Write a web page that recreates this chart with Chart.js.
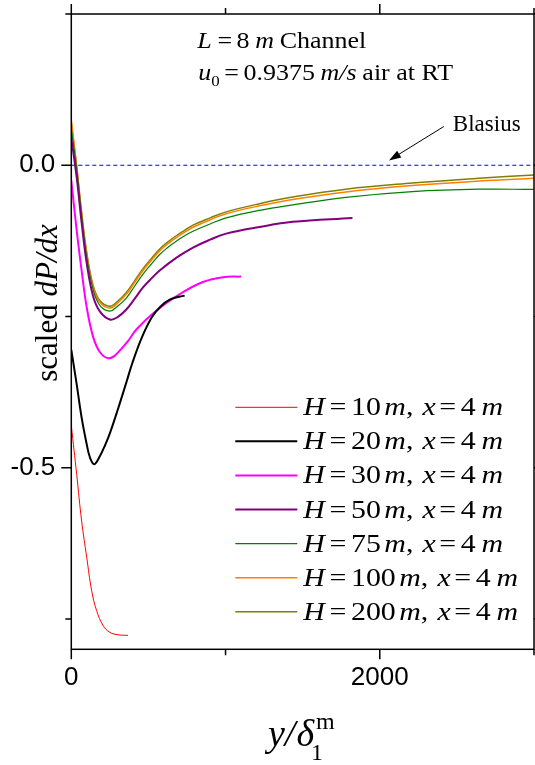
<!DOCTYPE html>
<html><head><meta charset="utf-8">
<script src="https://cdn.jsdelivr.net/npm/chart.js@4.4.0/dist/chart.umd.min.js"></script>
<style>html,body{margin:0;padding:0;background:#fff;}#wrap{width:535px;height:765px;}</style>
</head><body><div id="wrap"><canvas id="c" width="535" height="765"></canvas></div>
<script>
// ---- axis ranges & ticks ----
const xMin = 0, xMax = 3000, yMin = -0.8, yMax = 0.25;
const xMajorTicks = [0, 2000], xMinorTicks = [1000, 3000];
const yMajorTicks = [0, -0.5], yMinorTicks = [0.25, -0.25, -0.75];
const yTickLabels = {"0": "0.0", "-0.5": "-0.5"};

// ---- series ----
const h10X = [0, 35, 67, 100, 132, 164, 207, 250, 304, 368];
const h10Y = [-0.43, -0.511, -0.588, -0.648, -0.703, -0.736, -0.761, -0.772, -0.776, -0.777];

const h20X = [0, 35, 67, 100, 121, 149, 185, 220, 250, 300, 358, 397, 455, 520, 573, 638, 735];
const h20Y = [-0.305, -0.362, -0.417, -0.461, -0.483, -0.494, -0.481, -0.462, -0.443, -0.405, -0.358, -0.326, -0.286, -0.252, -0.235, -0.222, -0.2155];

const h30X = [0, 35, 67, 100, 142, 186, 239, 280, 315, 370, 423, 552, 703, 853, 983, 1101];
const h30Y = [-0.025, -0.108, -0.174, -0.235, -0.284, -0.309, -0.319, -0.315, -0.306, -0.290, -0.271, -0.240, -0.213, -0.193, -0.185, -0.184];

const h50X = [0, 35, 67, 100, 142, 186, 250, 300, 358, 410, 465, 520, 573, 680, 789, 900, 1004, 1220, 1435, 1823];
const h50Y = [0.045, -0.02, -0.095, -0.162, -0.217, -0.242, -0.255, -0.251, -0.238, -0.221, -0.202, -0.187, -0.174, -0.153, -0.136, -0.123, -0.113, -0.102, -0.0935, -0.087];

const bigX = [0, 35, 67, 100, 142, 186, 250, 300, 358, 410, 465, 520, 573, 625, 680, 735, 789, 900, 1004, 1220, 1435, 1780, 2211, 2642, 3000];
const h75Y = [0.06, -0.006, -0.083, -0.151, -0.206, -0.232, -0.241, -0.233, -0.219, -0.200, -0.180, -0.163, -0.1475, -0.136, -0.1255, -0.1165, -0.109, -0.097, -0.087, -0.0745, -0.0655, -0.053, -0.0435, -0.0395, -0.040];
const h100Y = [0.075, -0.003, -0.080, -0.147, -0.202, -0.227, -0.236, -0.228, -0.213, -0.194, -0.174, -0.157, -0.1415, -0.130, -0.1195, -0.1105, -0.1025, -0.090, -0.080, -0.067, -0.0565, -0.044, -0.0335, -0.026, -0.0215];
const h200Y = [0.07, -0.002, -0.078, -0.144, -0.199, -0.224, -0.233, -0.225, -0.210, -0.191, -0.171, -0.154, -0.1385, -0.127, -0.1165, -0.1075, -0.099, -0.087, -0.077, -0.0635, -0.0525, -0.0395, -0.0295, -0.0215, -0.016];

const blasiusX = [0, 3000];
const blasiusY = [0, 0];

const seriesH = ["10", "20", "30", "50", "75", "100", "200"];
const seriesColors = ["#ff0000", "#000000", "#ff00ff", "#800080", "#008000", "#ff8000", "#808000"];
const seriesWidths = [1, 2, 2, 2, 1.2, 1.5, 1.5];
const seriesXs = [h10X, h20X, h30X, h50X, bigX, bigX, bigX];
const seriesYs = [h10Y, h20Y, h30Y, h50Y, h75Y, h100Y, h200Y];

const pts = (xs, ys) => xs.map((x, i) => ({x: x, y: ys[i]}));

const datasets = seriesH.map((h, i) => ({
  label: "H = " + h + " m, x = 4 m",
  data: pts(seriesXs[i], seriesYs[i]),
  borderColor: seriesColors[i],
  borderWidth: seriesWidths[i],
  pointRadius: 0,
  fill: false,
  tension: 0.4
}));
datasets.push({
  label: "Blasius",
  data: pts(blasiusX, blasiusY),
  borderColor: "#0000ff",
  borderWidth: 1,
  borderDash: [4, 3],
  pointRadius: 0,
  fill: false
});

const SERIF = '"Liberation Serif", "Times New Roman", serif';

function rich(ctx, x, y, segs, sx, sy) {
  ctx.save();
  ctx.translate(x, y);
  ctx.scale(sx || 1, sy || 1);
  ctx.textBaseline = 'alphabetic';
  ctx.textAlign = 'left';
  let cx = 0;
  for (const s of segs) {
    ctx.font = (s.it ? 'italic ' : '') + s.sz + 'px ' + SERIF;
    ctx.fillText(s.t, cx + (s.dx || 0), s.dy || 0);
    if (!s.noAdv) cx += ctx.measureText(s.t).width + (s.g || 0);
  }
  ctx.restore();
}
function richWidth(ctx, segs) {
  let w = 0;
  for (const s of segs) {
    ctx.font = (s.it ? 'italic ' : '') + s.sz + 'px ' + SERIF;
    if (!s.noAdv) w += ctx.measureText(s.t).width + (s.g || 0);
  }
  return w;
}

const decor = {
  id: 'decor',
  afterDraw(chart) {
    const ctx = chart.ctx;
    const a = chart.chartArea;
    const xs = chart.scales.x, ys = chart.scales.y;
    ctx.save();
    ctx.fillStyle = '#000';
    ctx.strokeStyle = '#000';
    // frame
    ctx.lineWidth = 1.5;
    ctx.strokeRect(a.left, a.top, a.right - a.left, a.bottom - a.top);
    // ticks
    ctx.beginPath();
    const tk = (vals, len) => {
      for (const v of vals) {
        const px = xs.getPixelForValue(v);
        ctx.moveTo(px, a.bottom); ctx.lineTo(px, a.bottom + len);
        ctx.moveTo(px, a.top); ctx.lineTo(px, a.top - len);
      }
    };
    const tky = (vals, len) => {
      for (const v of vals) {
        const py = ys.getPixelForValue(v);
        ctx.moveTo(a.left, py); ctx.lineTo(a.left - len, py);
        ctx.moveTo(a.right, py); ctx.lineTo(a.right + len, py);
      }
    };
    tk(xMajorTicks, 10); tk(xMinorTicks, 6);
    tky(yMajorTicks, 10); tky(yMinorTicks, 6);
    ctx.stroke();

    // annotation text
    rich(ctx, a.left + 126, 48, [
      {t: 'L', it: true, sz: 23, g: 5},
      {t: '=', sz: 23, g: 4},
      {t: '8', sz: 23, g: 5},
      {t: 'm', it: true, sz: 23, g: 5},
      {t: 'Channel', sz: 23}
    ], 1.13, 1);
    rich(ctx, a.left + 127, 80, [
      {t: 'u', it: true, sz: 23, g: 0},
      {t: '0', sz: 15, dy: 6, g: 4},
      {t: '=', sz: 23, g: 4},
      {t: '0.9375', sz: 23, g: 5},
      {t: 'm/s', it: true, sz: 23, g: 5},
      {t: 'air at RT', sz: 23}
    ], 1.13, 1);

    // Blasius label & arrow
    rich(ctx, xs.getPixelForValue(2474), ys.getPixelForValue(0.056), [{t: 'Blasius', sz: 23}], 1, 1);
    const tx = xs.getPixelForValue(2060), ty = ys.getPixelForValue(0.008);
    const sx0 = xs.getPixelForValue(2415), sy0 = ys.getPixelForValue(0.064);
    const ang = Math.atan2(ty - sy0, tx - sx0);
    ctx.lineWidth = 1;
    ctx.beginPath(); ctx.moveTo(sx0, sy0);
    ctx.lineTo(tx - 9 * Math.cos(ang), ty - 9 * Math.sin(ang)); ctx.stroke();
    ctx.beginPath();
    ctx.moveTo(tx, ty);
    ctx.lineTo(tx - 12 * Math.cos(ang) + 4 * Math.sin(ang), ty - 12 * Math.sin(ang) - 4 * Math.cos(ang));
    ctx.lineTo(tx - 12 * Math.cos(ang) - 4 * Math.sin(ang), ty - 12 * Math.sin(ang) + 4 * Math.cos(ang));
    ctx.closePath(); ctx.fill();

    // legend
    const lx0 = a.left + 164, lx1 = a.left + 226, ltx = a.left + 232;
    let ly = 407.3;
    for (let i = 0; i < seriesH.length; i++) {
      ctx.strokeStyle = seriesColors[i];
      ctx.lineWidth = seriesWidths[i];
      ctx.beginPath(); ctx.moveTo(lx0, ly); ctx.lineTo(lx1, ly); ctx.stroke();
      ctx.fillStyle = '#000';
      rich(ctx, ltx, ly + 8, [
        {t: 'H', it: true, sz: 26, g: 4},
        {t: '=', sz: 26, g: 4},
        {t: seriesH[i], sz: 26, g: 3},
        {t: 'm', it: true, sz: 26, g: 0},
        {t: ',', sz: 26, g: 8},
        {t: 'x', it: true, sz: 26, g: 3},
        {t: '=', sz: 26, g: 4},
        {t: '4', sz: 26, g: 5},
        {t: 'm', it: true, sz: 26}
      ], 1.15, 1);
      ly += 34.07;
    }

    // y axis title (rotated)
    ctx.fillStyle = '#000';
    const ysegs = [{t: 'scaled ', sz: 31}, {t: 'dP/dx', it: true, sz: 31}];
    const yw = richWidth(ctx, ysegs);
    ctx.save();
    ctx.translate(57, 303);
    ctx.rotate(-Math.PI / 2);
    rich(ctx, -yw / 2, 0, ysegs, 1, 1);
    ctx.restore();

    // x axis title
    const xsegs = [
      {t: 'y', it: true, sz: 38, g: 0},
      {t: '/', it: true, sz: 38, g: 1},
      {t: 'δ', it: true, sz: 38, g: -3},
      {t: '1', sz: 24, dy: 14, noAdv: true},
      {t: 'm', sz: 24, dy: -17, dx: 5}
    ];
    rich(ctx, 268, 746, xsegs, 1, 1);
    ctx.restore();
  }
};

const noPad = s => { s.paddingTop = 0; s.paddingBottom = 0; s.paddingLeft = 0; s.paddingRight = 0; };

new Chart(document.getElementById('c'), {
  type: 'line',
  data: {datasets: datasets},
  options: {
    responsive: false,
    animation: false,
    devicePixelRatio: 1,
    layout: {padding: {top: 14, right: 1, left: 0, bottom: 0}},
    plugins: {legend: {display: false}, tooltip: {enabled: false}, title: {display: false}},
    scales: {
      x: {
        type: 'linear', min: xMin, max: xMax,
        afterBuildTicks: s => { s.ticks = xMajorTicks.map(v => ({value: v})); },
        afterFit: s => { s.height = 115.7; noPad(s); },
        grid: {display: false, drawTicks: false},
        border: {display: false},
        ticks: {
          color: '#000', padding: 13, maxRotation: 0, autoSkip: false,
          font: {family: '"Liberation Sans", Arial, sans-serif', size: 26},
          callback: v => String(v)
        }
      },
      y: {
        type: 'linear', min: yMin, max: yMax,
        afterBuildTicks: s => { s.ticks = [...yMajorTicks].sort((p, q) => p - q).map(v => ({value: v})); },
        afterFit: s => { s.width = 71.3; noPad(s); },
        grid: {display: false, drawTicks: false},
        border: {display: false},
        ticks: {
          color: '#000', padding: 16, autoSkip: false,
          font: {family: '"Liberation Sans", Arial, sans-serif', size: 26},
          callback: v => yTickLabels[String(v)] || ''
        }
      }
    }
  },
  plugins: [decor]
});
</script>
</body></html>
